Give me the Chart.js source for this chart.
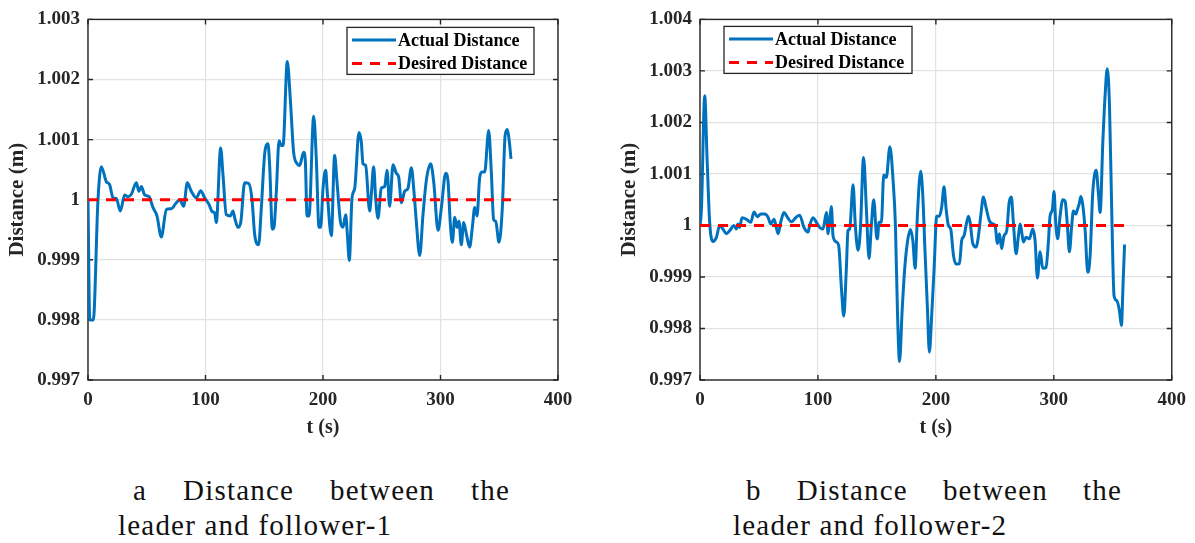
<!DOCTYPE html>
<html>
<head>
<meta charset="utf-8">
<script src="https://cdn.jsdelivr.net/npm/chart.js@4.4.1/dist/chart.umd.min.js"></script>
<style>
html,body{margin:0;padding:0;background:#fff;}
body{width:1195px;height:543px;position:relative;overflow:hidden;}
canvas{position:absolute;top:0;}
#c1{left:0;}
#c2{left:612px;}
.cap{position:absolute;font-family:"Liberation Serif",serif;font-size:29px;line-height:29px;color:#111;letter-spacing:1.2px;white-space:nowrap;}
.cap.row{display:flex;justify-content:space-between;}
</style>
</head>
<body>
<canvas id="c1" width="597" height="460"></canvas>
<canvas id="c2" width="583" height="460"></canvas>
<div class="cap row" style="left:133px;top:476px;width:377px"><span>a</span><span>Distance</span><span>between</span><span>the</span></div>
<div class="cap" style="left:118px;top:511px">leader and follower-1</div>
<div class="cap row" style="left:746px;top:476px;width:376px"><span>b</span><span>Distance</span><span>between</span><span>the</span></div>
<div class="cap" style="left:733px;top:511px">leader and follower-2</div>
<script>
// Follower-1: time (s) and measured leader distance (m)
const timeF1 = [0, 1.5, 4.5, 8.5, 11.3, 15.6, 18.4, 21.3, 24.1, 27.5, 31.2, 34, 36.9, 41.1, 43.4, 45.4, 48.2, 51.9, 55.3, 58.7,
  62.4, 66.7, 70.9, 75.2, 78, 81.4, 84.5, 87.9, 92.2, 95.9, 99.3, 103, 105.8, 107.8, 109.2, 112.9, 114.9, 117.7, 121.1, 123.4,
  124.8, 127.7, 130, 133.3, 136.7, 139.6, 141.8, 145.2, 147.5, 150.4, 153.2, 154.6, 156.9, 158.3, 160.3, 162.6, 164.5, 166, 169.6, 172.2,
  175, 177.9, 180.1, 183.5, 185, 186.4, 188.1, 192.1, 194.3, 196.6, 198, 200, 202.3, 203.4, 207.1, 209.9, 211.9, 214.8, 217, 219.3,
  220.7, 222.4, 224.7, 227, 230.6, 232.6, 234, 236.3, 239.7, 241.1, 243.1, 244.8, 246.8, 249.6, 252.5, 254.5, 256.7, 259.6, 262.4, 264.4,
  266.7, 269.5, 272.3, 275.2, 277.4, 279.4, 282.3, 285.1, 288, 291.6, 294.2, 297.9, 300.7, 304.4, 306.4, 308.4, 310.1, 312.1, 314, 315.7,
  317.7, 319.7, 322, 324.8, 327.1, 329.1, 331.1, 333.3, 335.3, 337.6, 341, 343.3, 345.2, 347, 349.8, 352.6, 355, 356.9, 358.3, 360];
const distF1 = [1.00000, 0.99800, 0.99800, 1.00000, 1.00055, 1.00030, 1.00025, 1.00003, 1.00002, 0.99981, 1.00008, 1.00005, 1.00009, 1.00028, 1.00014, 1.00022, 1.00008, 1.00005, 0.99987, 0.99973,
  0.99938, 0.99984, 0.99985, 0.99995, 1.00000, 0.99989, 1.00028, 1.00014, 1.00003, 1.00015, 1.00003, 0.99992, 0.99980, 0.99978, 0.99962, 1.00086, 1.00041, 0.99975, 0.99973, 0.99981,
  0.99970, 0.99954, 0.99962, 1.00028, 1.00027, 1.00000, 0.99943, 0.99925, 0.99986, 1.00077, 1.00093, 1.00057, 0.99951, 0.99954, 1.00014, 1.00098, 1.00090, 1.00090, 1.00230, 1.00167,
  1.00079, 1.00060, 1.00057, 1.00079, 1.00063, 0.99973, 0.99973, 1.00139, 1.00068, 0.99954, 0.99954, 1.00019, 1.00049, 1.00019, 0.99940, 1.00074, 1.00030, 0.99964, 0.99954, 0.99975,
  0.99943, 0.99899, 1.00003, 1.00019, 1.00112, 1.00096, 1.00060, 1.00057, 0.99981, 1.00008, 1.00055, 1.00003, 0.99969, 1.00019, 1.00022, 1.00049, 0.99989, 1.00058, 1.00044, 1.00038,
  0.99995, 1.00014, 1.00019, 1.00053, 1.00014, 0.99964, 0.99907, 0.99975, 1.00033, 1.00060, 1.00030, 0.99949, 0.99986, 1.00044, 1.00030, 0.99959, 0.99929, 0.99971, 0.99954, 0.99964,
  0.99925, 0.99962, 0.99943, 0.99921, 0.99954, 0.99987, 0.99973, 1.00036, 1.00046, 1.00046, 1.00115, 1.00044, 0.99967, 0.99964, 0.99929, 0.99986, 1.00107, 1.00117, 1.00101, 1.00068];

// Follower-2: time (s) and measured leader distance (m)
const timeF2 = [0, 1.2, 4, 6, 8.2, 11, 13.9, 16.7, 19.5, 22.3, 25.2, 28.8, 30.8, 32.2, 33.6, 35.6, 39.3, 43, 45.8, 48.6,
  51.5, 54.8, 57.7, 59.9, 62.8, 66.2, 68.4, 71.2, 74.1, 77.5, 81.1, 84.5, 88.2, 91.6, 93, 95.8, 98.7, 101.5, 104.3, 107.2,
  108.6, 110, 111.4, 112.8, 115.6, 117.6, 119.9, 121.9, 124.1, 125.5, 126.9, 129.8, 131.7, 134, 136, 138.7, 141.1, 143.3, 145.3, 147.3,
  149.6, 150.4, 151.8, 153.8, 155.8, 158, 161, 163.7, 165.7, 167.4, 169.2, 171.4, 173.6, 175.9, 178.4, 180.5, 182.4, 184.3, 187.1, 188.8,
  190.8, 192.8, 194.5, 196.5, 198.5, 200.7, 203, 205, 206.9, 208.6, 210.6, 212.6, 214.9, 217.1, 220, 221.9, 223.9, 225.6, 227.6, 229,
  231.3, 234.1, 236.1, 238, 240.3, 242.6, 245.4, 248.2, 250.2, 252.2, 253.9, 255.8, 257.8, 260.1, 262.1, 264, 265.7, 268, 270, 271.4,
  272.8, 274.2, 276.5, 279.3, 282.1, 284.1, 286.1, 288.4, 290.6, 293.4, 295.4, 296.8, 298.8, 300.2, 301.6, 303.3, 305.3, 307.6, 309.6, 311.5,
  313.2, 315.2, 316.6, 318.6, 320, 321.4, 322.9, 324.5, 326.5, 328.8, 330.8, 333, 335.9, 337.8, 339.3, 341.5, 343.5, 345.3, 347.2, 349.2,
  351.1, 353.4, 355.6, 357.3, 358.8, 360];
const distF2 = [1.00000, 1.00030, 1.00252, 1.00130, 1.00006, 0.99969, 0.99977, 1.00000, 0.99993, 0.99984, 0.99990, 1.00000, 0.99993, 1.00003, 0.99996, 1.00015, 1.00012, 1.00006, 1.00026, 1.00017,
  1.00022, 1.00022, 1.00016, 1.00003, 1.00012, 0.99984, 1.00006, 1.00025, 1.00016, 1.00007, 1.00015, 1.00020, 0.99996, 0.99987, 1.00000, 1.00015, 1.00006, 0.99996, 0.99993, 1.00025,
  0.99984, 1.00011, 1.00037, 0.99980, 0.99968, 0.99961, 0.99879, 0.99824, 0.99917, 0.99990, 0.99993, 1.00079, 1.00000, 0.99952, 0.99993, 1.00132, 1.00031, 0.99936, 1.00000, 1.00050,
  0.99980, 0.99974, 1.00006, 1.00006, 1.00098, 1.00093, 1.00153, 1.00088, 1.00000, 0.99835, 0.99736, 0.99835, 0.99917, 0.99968, 0.99992, 0.99970, 0.99917, 1.00018, 1.00105, 1.00063,
  0.99949, 0.99841, 0.99754, 0.99828, 0.99917, 1.00018, 1.00018, 1.00037, 1.00075, 1.00034, 1.00000, 0.99993, 0.99942, 0.99925, 0.99926, 0.99971, 0.99980, 1.00000, 1.00018, 1.00006,
  0.99965, 0.99958, 0.99980, 1.00018, 1.00055, 1.00034, 1.00009, 1.00003, 1.00000, 0.99965, 0.99984, 0.99955, 0.99980, 0.99990, 1.00044, 1.00055, 1.00006, 0.99945, 0.99980, 1.00003,
  0.99987, 0.99968, 0.99977, 0.99974, 0.99993, 0.99971, 0.99898, 0.99949, 0.99917, 0.99918, 0.99968, 1.00018, 1.00031, 1.00066, 1.00006, 0.99974, 1.00018, 1.00050, 1.00047, 1.00000,
  0.99949, 1.00000, 1.00028, 1.00022, 1.00031, 1.00041, 1.00056, 1.00041, 0.99993, 0.99909, 0.99942, 1.00063, 1.00107, 1.00063, 1.00025, 1.00158, 1.00253, 1.00304, 1.00234, 1.00018,
  0.99863, 0.99854, 0.99835, 0.99806, 0.99892, 0.99963];

// Reference distance held for the whole run
const desiredTime = [0, 360];
const desiredDist = [1, 1];

const seriesNames = ['Actual Distance', 'Desired Distance'];
const xTicks = [0, 100, 200, 300, 400];
const xTickLabels = ['0', '100', '200', '300', '400'];
const yTicksF1 = [0.997, 0.998, 0.999, 1, 1.001, 1.002, 1.003];
const yTickLabelsF1 = ['0.997', '0.998', '0.999', '1', '1.001', '1.002', '1.003'];
const yTicksF2 = [0.997, 0.998, 0.999, 1, 1.001, 1.002, 1.003, 1.004];
const yTickLabelsF2 = ['0.997', '0.998', '0.999', '1', '1.001', '1.002', '1.003', '1.004'];

const SERIF = '"Liberation Serif", "Times New Roman", serif';
const AXIS_INK = '#262626';

// Box around the plot with short inward tick marks on all four sides
const axesFrame = {
  id: 'axesFrame',
  beforeDatasetsDraw(chart) {
    const {ctx, chartArea: a, scales: {x, y}} = chart;
    const len = 5;
    ctx.save();
    ctx.strokeStyle = AXIS_INK;
    ctx.lineWidth = 1.4;
    ctx.beginPath();
    x.ticks.forEach(t => {
      const px = x.getPixelForValue(t.value);
      ctx.moveTo(px, a.bottom); ctx.lineTo(px, a.bottom - len);
      ctx.moveTo(px, a.top); ctx.lineTo(px, a.top + len);
    });
    y.ticks.forEach(t => {
      const py = y.getPixelForValue(t.value);
      ctx.moveTo(a.left, py); ctx.lineTo(a.left + len, py);
      ctx.moveTo(a.right, py); ctx.lineTo(a.right - len, py);
    });
    ctx.stroke();
    ctx.strokeRect(a.left, a.top, a.right - a.left, a.bottom - a.top);
    ctx.restore();
  }
};

// Boxed legend placed inside the plot corner
const boxLegend = {
  id: 'boxLegend',
  afterDraw(chart, args, o) {
    const {ctx, chartArea: a} = chart;
    const x0 = o.corner === 'ne' ? a.right - o.inset - o.width : a.left + o.inset;
    const y0 = a.top + o.offsetTop;
    ctx.save();
    ctx.fillStyle = '#fff';
    ctx.fillRect(x0, y0, o.width, o.height);
    ctx.strokeStyle = AXIS_INK;
    ctx.lineWidth = 1.3;
    ctx.strokeRect(x0, y0, o.width, o.height);
    ctx.font = 'bold 18px ' + SERIF;
    ctx.textBaseline = 'middle';
    ctx.textAlign = 'left';
    chart.data.datasets.forEach((ds, i) => {
      const yy = y0 + o.rowTop + i * o.rowGap;
      ctx.beginPath();
      ctx.setLineDash(ds.borderDash || []);
      ctx.strokeStyle = ds.borderColor;
      ctx.lineWidth = ds.borderWidth;
      ctx.moveTo(x0 + 5, yy);
      ctx.lineTo(x0 + 49, yy);
      ctx.stroke();
      ctx.setLineDash([]);
      ctx.fillStyle = '#000';
      ctx.fillText(ds.label, x0 + 51, yy + 1);
    });
    ctx.restore();
  }
};

function makeChart(id, time, dist, yTicks, yLabels, pad, legendOpts) {
  const toPts = (ts, vs) => ts.map((t, i) => ({x: t, y: vs[i]}));
  return new Chart(document.getElementById(id), {
    type: 'line',
    data: {
      datasets: [
        {label: seriesNames[0], data: toPts(time, dist), borderColor: '#0072BD', borderWidth: 3,
         pointRadius: 0, cubicInterpolationMode: 'monotone', fill: false, order: 1},
        {label: seriesNames[1], data: toPts(desiredTime, desiredDist), borderColor: '#FF0000', borderWidth: 3,
         borderDash: [10, 8], pointRadius: 0, fill: false, order: 0}
      ]
    },
    options: {
      responsive: false,
      animation: false,
      devicePixelRatio: 1,
      layout: {padding: pad},
      plugins: {legend: {display: false}, tooltip: {enabled: false}, boxLegend: legendOpts},
      scales: {
        x: {
          type: 'linear', min: 0, max: 400,
          afterBuildTicks: s => { s.ticks = xTicks.map(v => ({value: v})); },
          afterFit: s => { s.height = 80; },
          ticks: {callback: (v, i) => xTickLabels[i], color: AXIS_INK, padding: 9, maxRotation: 0,
                  font: {family: SERIF, weight: 'bold', size: 19}},
          grid: {color: '#e2e2e2', lineWidth: 1.2, drawTicks: false},
          border: {display: false},
          title: {display: true, text: 't (s)', color: AXIS_INK, padding: {top: 0, bottom: 20},
                  font: {family: SERIF, weight: 'bold', size: 20}}
        },
        y: {
          type: 'linear', min: yTicks[0], max: yTicks[yTicks.length - 1],
          afterBuildTicks: s => { s.ticks = yTicks.map(v => ({value: v})); },
          afterFit: s => { s.width = 88; },
          ticks: {callback: (v, i) => yLabels[i], color: AXIS_INK, padding: 8,
                  font: {family: SERIF, weight: 'bold', size: 19}},
          grid: {color: '#e2e2e2', lineWidth: 1.2, drawTicks: false},
          border: {display: false},
          title: {display: true, text: 'Distance (m)', color: AXIS_INK, padding: {top: 5, bottom: 0},
                  font: {family: SERIF, weight: 'bold', size: 21}}
        }
      }
    },
    plugins: [axesFrame, boxLegend]
  });
}

makeChart('c1', timeF1, distF1, yTicksF1, yTickLabelsF1,
  {left: 0, top: 13, right: 39, bottom: 0},
  {corner: 'ne', inset: 24, offsetTop: 8, width: 187, height: 47, rowTop: 12.5, rowGap: 23.5});
makeChart('c2', timeF2, distF2, yTicksF2, yTickLabelsF2,
  {left: 0, top: 14, right: 23, bottom: 0},
  {corner: 'nw', inset: 24, offsetTop: 7, width: 188, height: 47, rowTop: 12.5, rowGap: 23.5});
</script>
</body>
</html>
